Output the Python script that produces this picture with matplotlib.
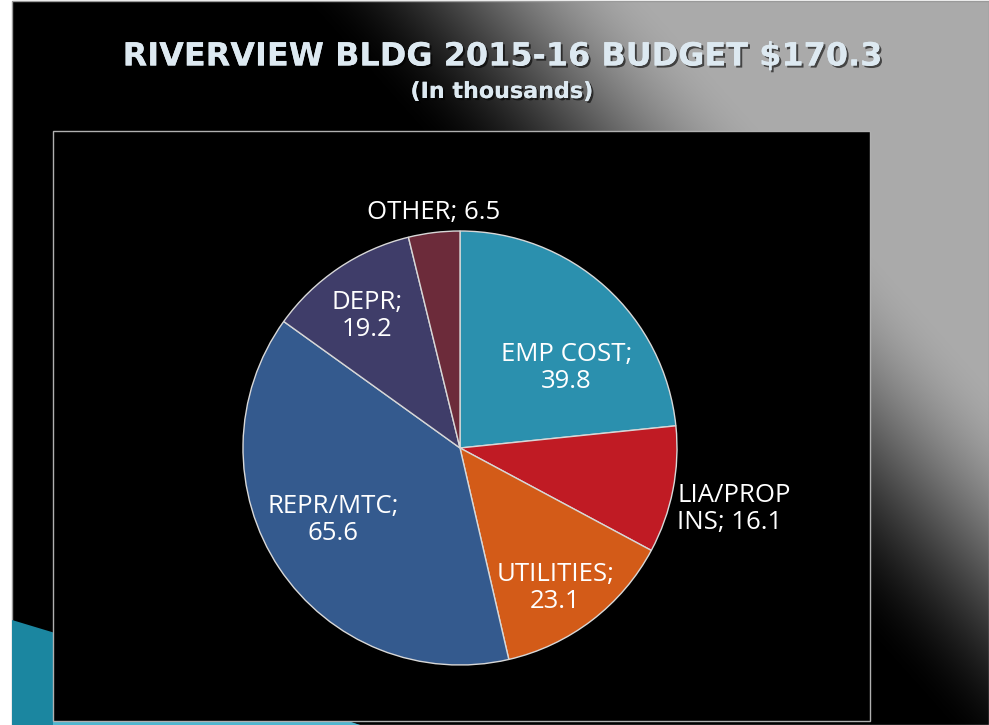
import numpy as np
import matplotlib
matplotlib.use("Agg")
import matplotlib.pyplot as plt
import matplotlib.patheffects as pe
from matplotlib.patches import Rectangle, Polygon

W, H = 989, 725

categories = ["EMP COST", "LIA/PROP\nINS", "UTILITIES", "REPR/MTC", "DEPR", "OTHER"]
values = [39.8, 16.1, 23.1, 65.6, 19.2, 6.5]
colors = ["#2b90ae", "#c01b24", "#d35b18", "#345a8e", "#3f3d69", "#6c2b3a"]

# label text and placement (pie units, radius 1)
label_texts = ["EMP COST;\n39.8", "LIA/PROP\nINS; 16.1", "UTILITIES;\n23.1",
               "REPR/MTC;\n65.6", "DEPR;\n19.2", "OTHER; 6.5"]
label_pos = [(0.49, 0.37), (1.0, -0.28), (0.44, -0.645),
             (-0.585, -0.33), (-0.43, 0.61), (-0.12, 1.085)]
label_ha = ["center", "left", "center", "center", "center", "center"]

fig = plt.figure(figsize=(W / 100, H / 100), dpi=100)
fig.patch.set_facecolor("white")
ax = fig.add_axes([0, 0, 1, 1])

# slide background: diagonal gradient, black lower-left -> gray upper-right
xx, yy = np.meshgrid(np.arange(W), np.arange(H))
t = np.clip((xx - 0.9 * yy - 285) / 370.0, 0, 1)
t = t * t * (3 - 2 * t)
g = 0.67 * t
img = np.dstack([g, g, g])
ax.imshow(img, extent=(12, W, 0, H - 1), origin="upper", zorder=0, aspect="auto")
ax.add_patch(Rectangle((12, 0), W - 12, H - 1, fill=False, ec="#9a9a9a", lw=1, zorder=1))

# teal corner shape
ax.add_patch(Polygon([(12, H - 620), (360, 0), (12, 0)], closed=True,
                     fc="#1b86a0", ec="none", zorder=1))
ax.add_patch(Polygon([(53, 0), (360, 0), (345, 5), (53, 5)], closed=True,
                     fc="#4fb6cf", ec="none", zorder=1))

# chart frame
ax.add_patch(Rectangle((53, H - 721), 817, 590, fc="black", ec="#b0b0b0", lw=1, zorder=2))

cx, cy, r = 460, H - 448, 217
wedges, _ = ax.pie(values, colors=colors, startangle=90, counterclock=False,
                   center=(cx, cy), radius=r, frame=True,
                   wedgeprops=dict(edgecolor="#d8d8d8", linewidth=1))
for w in wedges:
    w.set_zorder(3)
ax.set_xlim(0, W)
ax.set_ylim(0, H)
ax.set_aspect("equal")
ax.axis("off")

for txt, (px, py), ha in zip(label_texts, label_pos, label_ha):
    ax.text(cx + px * r, cy + py * r, txt, ha=ha, va="center", color="white",
            fontsize=18.5, family="Open Sans", linespacing=1.1, zorder=4)

shadow = [pe.withSimplePatchShadow(offset=(1.5, -1.5), shadow_rgbFace="black", alpha=0.6), pe.Normal()]
ax.text(503, H - 57, "RIVERVIEW BLDG 2015-16 BUDGET $170.3", ha="center", va="center",
        color="#dde9f1", fontsize=23, fontweight="bold", family="DejaVu Sans",
        path_effects=shadow, zorder=4)
ax.text(502, H - 92, "(In thousands)", ha="center", va="center",
        color="#dde9f1", fontsize=16, fontweight="bold", family="DejaVu Sans",
        path_effects=shadow, zorder=4)

fig.savefig("out.png", dpi=100, facecolor="white")
